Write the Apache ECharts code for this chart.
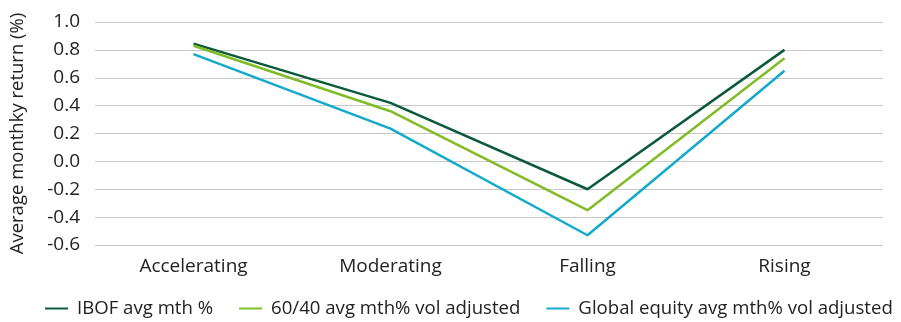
<!DOCTYPE html>
<html><head><meta charset="utf-8">
<script src="https://cdn.jsdelivr.net/npm/echarts@6/dist/echarts.min.js"></script>
<style>html,body{margin:0;padding:0;background:#fff}#c{width:901px;height:322px}</style>
</head><body><div id="c"></div>
<script>
const categories = ['Accelerating','Moderating','Falling','Rising'];
const ibof = [0.845, 0.42, -0.20, 0.80];
const sixtyForty = [0.83, 0.36, -0.35, 0.74];
const globalEq = [0.77, 0.235, -0.53, 0.65];
const seriesNames = ['IBOF avg mth %','60/40 avg mth% vol adjusted','Global equity avg mth% vol adjusted'];
const colors = ['#0b5a3a','#80bc28','#14aacb'];
const font = '"Open Sans", sans-serif';
const chart = echarts.init(document.getElementById('c'), null, {renderer:'canvas'});
chart.setOption({
  animation:false,
  color: colors,
  textStyle:{fontFamily:font},
  grid:{left:95,right:18,top:22,bottom:77},
  legend:{
    bottom:4,left:45,width:900,padding:0,itemWidth:23,itemHeight:2,itemGap:26,
    icon:'rect',
    textStyle:{fontFamily:font,fontSize:18.6,color:'#222',padding:[0,0,0,4]},
    data: seriesNames
  },
  xAxis:{
    type:'category',data:categories,boundaryGap:true,
    axisLine:{show:false},axisTick:{show:false},
    axisLabel:{fontFamily:font,fontSize:19,color:'#222',margin:12}
  },
  yAxis:{
    type:'value',min:-0.6,max:1.0,interval:0.2,
    name:'Average monthky return (%)',nameLocation:'middle',nameGap:68,nameRotate:90,
    nameTextStyle:{fontFamily:font,fontSize:18.5,color:'#222'},
    axisLabel:{fontFamily:font,fontSize:19,color:'#222',margin:15,formatter:v=>v.toFixed(1)},
    splitLine:{lineStyle:{color:'#c8c8c8',width:1}},
    axisLine:{show:false},axisTick:{show:false}
  },
  series:[
    {name:seriesNames[0],type:'line',data:ibof,symbol:'none',lineStyle:{width:2.5}},
    {name:seriesNames[1],type:'line',data:sixtyForty,symbol:'none',lineStyle:{width:2.5}},
    {name:seriesNames[2],type:'line',data:globalEq,symbol:'none',lineStyle:{width:2.5}}
  ]
});
</script></body></html>
